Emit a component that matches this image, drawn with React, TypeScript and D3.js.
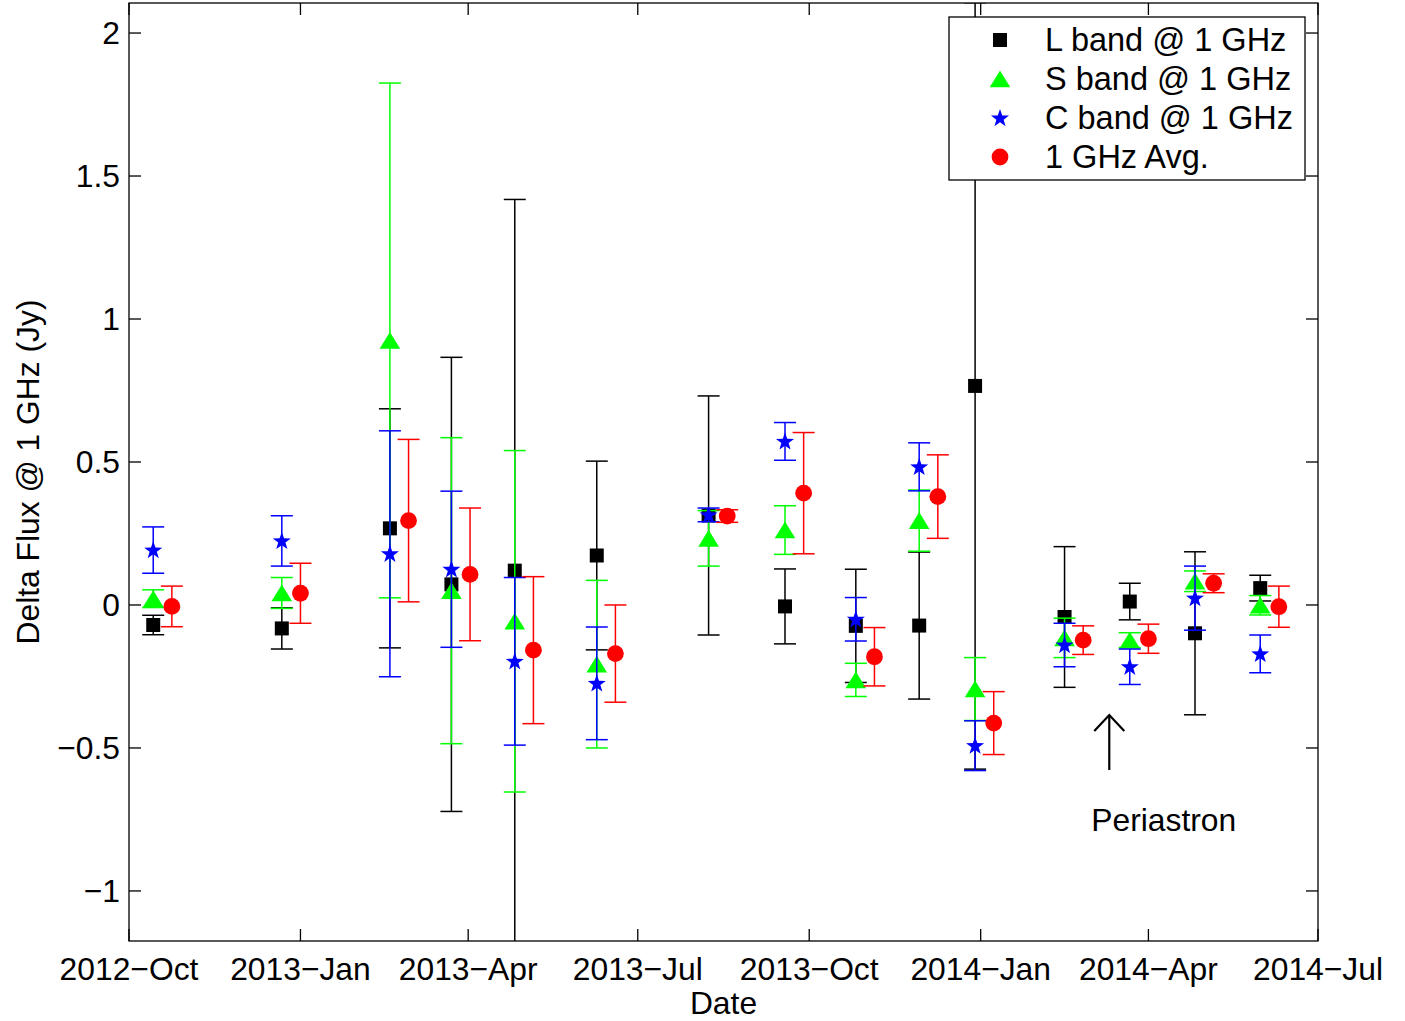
import React from "react";
import * as d3 from "d3";

// ---- data ----
const obsDates = [
  "2012-10-14", "2012-12-22", "2013-02-18", "2013-03-23", "2013-04-26",
  "2013-06-09", "2013-08-08", "2013-09-18", "2013-10-26", "2013-11-29",
  "2013-12-29", "2014-02-15", "2014-03-22", "2014-04-26", "2014-05-31",
];
const avgDates = [
  "2012-10-24", "2013-01-01", "2013-02-28", "2013-04-02", "2013-05-06",
  "2013-06-19", "2013-08-18", "2013-09-28", "2013-11-05", "2013-12-09",
  "2014-01-08", "2014-02-25", "2014-04-01", "2014-05-06", "2014-06-10",
];
const lValues = [-0.070, -0.082, 0.268, 0.072, 0.120, 0.173, 0.313, -0.005, -0.073, -0.072, 0.766, -0.042, 0.012, -0.099, 0.059];
const lErrors = [0.034, 0.072, 0.418, 0.794, 1.298, 0.330, 0.418, 0.131, 0.198, 0.257, 1.340, 0.246, 0.064, 0.285, 0.045];
const sValues = [0.022, 0.042, 0.925, 0.050, -0.057, -0.207, 0.233, 0.262, -0.262, 0.295, -0.294, -0.115, -0.123, 0.083, -0.001];
const sErrors = [0.031, 0.054, 0.900, 0.535, 0.597, 0.293, 0.097, 0.085, 0.058, 0.107, 0.110, 0.069, 0.026, 0.036, 0.034];
const cValues = [0.192, 0.224, 0.179, 0.125, -0.197, -0.274, 0.315, 0.572, -0.050, 0.483, -0.492, -0.140, -0.216, 0.024, -0.171];
const cErrors = [0.081, 0.088, 0.430, 0.273, 0.293, 0.197, 0.024, 0.066, 0.076, 0.084, 0.087, 0.076, 0.062, 0.112, 0.066];
const avgValues = [-0.005, 0.041, 0.295, 0.107, -0.158, -0.170, 0.311, 0.391, -0.181, 0.379, -0.413, -0.123, -0.118, 0.076, -0.006];
const avgErrors = [0.071, 0.105, 0.284, 0.232, 0.257, 0.170, 0.022, 0.212, 0.102, 0.146, 0.110, 0.050, 0.051, 0.033, 0.072];

const seriesNames = ["L band @ 1 GHz", "S band @ 1 GHz", "C band @ 1 GHz", "1 GHz Avg."];
const xTickDates = ["2012-10-01", "2013-01-01", "2013-04-01", "2013-07-01", "2013-10-01", "2014-01-01", "2014-04-01", "2014-07-01"];
const xTickLabels = ["2012\u2212Oct", "2013\u2212Jan", "2013\u2212Apr", "2013\u2212Jul", "2013\u2212Oct", "2014\u2212Jan", "2014\u2212Apr", "2014\u2212Jul"];
const yTicks = [-1, -0.5, 0, 0.5, 1, 1.5, 2];
const xDomain = ["2012-10-01", "2014-07-01"];
const yDomain = [-1.175, 2.105];
const periastronDate = "2014-03-11";
const periastronArrow = [-0.577, -0.385];
const periastronLabelY = -0.752;

// ---- layout ----
const W = 1405, H = 1021;
const L = 129, R = 1318, T = 3, B = 941;
const FONT = "'Liberation Sans', Arial, Helvetica, sans-serif";
const FS = 31.8;
const LFS = 32.5;

const parse = d3.timeParse("%Y-%m-%d");
const x = d3.scaleTime().domain(xDomain.map((d) => parse(d)!)).range([L, R]);
const y = d3.scaleLinear().domain(yDomain).range([B, T]);

type Shape = "square" | "triangle" | "star" | "circle";

function starPath(r: number) {
  const inner = r * 0.4;
  const pts: [number, number][] = [];
  for (let i = 0; i < 10; i++) {
    const a = -Math.PI / 2 + (i * Math.PI) / 5;
    const rr = i % 2 === 0 ? r : inner;
    pts.push([rr * Math.cos(a), rr * Math.sin(a)]);
  }
  return d3.line()(pts)! + "Z";
}

function Marker({ shape, cx, cy, color }: { shape: Shape; cx: number; cy: number; color: string }) {
  if (shape === "square") return <rect x={cx - 7} y={cy - 7} width={14} height={14} fill={color} />;
  if (shape === "circle") return <circle cx={cx} cy={cy} r={8.4} fill={color} />;
  if (shape === "triangle")
    return <path d={`M${cx},${cy - 8.5}L${cx + 10.3},${cy + 8.3}L${cx - 10.3},${cy + 8.3}Z`} fill={color} />;
  return <path d={starPath(9.5)} transform={`translate(${cx},${cy + 0.5})`} fill={color} />;
}

const series = [
  { name: seriesNames[0], dates: obsDates, values: lValues, errors: lErrors, color: "#000000", shape: "square" as Shape },
  { name: seriesNames[1], dates: obsDates, values: sValues, errors: sErrors, color: "#00ff00", shape: "triangle" as Shape },
  { name: seriesNames[2], dates: obsDates, values: cValues, errors: cErrors, color: "#0000ff", shape: "star" as Shape },
  { name: seriesNames[3], dates: avgDates, values: avgValues, errors: avgErrors, color: "#ff0000", shape: "circle" as Shape },
];

export default function App() {
  const cap = 11;
  const tick = 12;
  return (
    <svg width={W} height={H} style={{ position: "absolute", left: 0, top: 0, background: "#fff" }} fontFamily={FONT}>
      <defs>
        <clipPath id="plot">
          <rect x={L} y={T} width={R - L} height={B - T} />
        </clipPath>
      </defs>
      <rect x={0} y={0} width={W} height={H} fill="#fff" />
      {/* data */}
      <g clipPath="url(#plot)">
        {series.map((s) => (
          <g key={s.name}>
            {s.values.map((v, i) => {
              const cx = x(parse(s.dates[i])!);
              const y1 = y(v + s.errors[i]);
              const y2 = y(v - s.errors[i]);
              return (
                <g key={i} stroke={s.color} strokeWidth={1.5}>
                  <line x1={cx} x2={cx} y1={y1} y2={y2} />
                  <line x1={cx - cap} x2={cx + cap} y1={y1} y2={y1} />
                  <line x1={cx - cap} x2={cx + cap} y1={y2} y2={y2} />
                </g>
              );
            })}
            {s.values.map((v, i) => (
              <Marker key={"m" + i} shape={s.shape} cx={x(parse(s.dates[i])!)} cy={y(v)} color={s.color} />
            ))}
          </g>
        ))}
      </g>
      {/* axes box */}
      <rect x={L} y={T} width={R - L} height={B - T} fill="none" stroke="#000" strokeWidth={1.3} />
      {xTickDates.map((d, i) => {
        const tx = x(parse(d)!);
        return (
          <g key={d}>
            <line x1={tx} x2={tx} y1={B} y2={B - tick} stroke="#000" strokeWidth={1.3} />
            <line x1={tx} x2={tx} y1={T} y2={T + tick} stroke="#000" strokeWidth={1.3} />
            <text x={tx} y={B + 39} fontSize={FS} textAnchor="middle">{xTickLabels[i]}</text>
          </g>
        );
      })}
      {yTicks.map((v) => {
        const ty = y(v);
        return (
          <g key={v}>
            <line x1={L} x2={L + tick} y1={ty} y2={ty} stroke="#000" strokeWidth={1.3} />
            <line x1={R} x2={R - tick} y1={ty} y2={ty} stroke="#000" strokeWidth={1.3} />
            <text x={120} y={ty + 11} fontSize={FS} textAnchor="end">{v < 0 ? "\u2212" + Math.abs(v) : String(v)}</text>
          </g>
        );
      })}
      <text x={(L + R) / 2} y={1014} fontSize={FS} textAnchor="middle">Date</text>
      <text transform={`translate(39,${(T + B) / 2}) rotate(-90)`} fontSize={FS} textAnchor="middle">Delta Flux @ 1 GHz (Jy)</text>
      {/* periastron annotation */}
      {(() => {
        const ax = x(parse(periastronDate)!);
        const yTail = y(periastronArrow[0]);
        const yTip = y(periastronArrow[1]);
        return (
          <g stroke="#000" strokeWidth={2.2} fill="none">
            <line x1={ax} x2={ax} y1={yTail} y2={yTip} />
            <polyline points={`${ax - 15},${yTip + 16} ${ax},${yTip} ${ax + 15},${yTip + 16}`} />
          </g>
        );
      })()}
      <text x={x(parse(periastronDate)!) - 18} y={y(periastronLabelY) + 11} fontSize={FS}>Periastron</text>
      {/* legend */}
      <g>
        <rect x={949} y={17} width={356} height={163} fill="#fff" stroke="#000" strokeWidth={1.3} />
        {series.map((s, i) => {
          const ry = 40 + i * 39;
          return (
            <g key={s.name}>
              <Marker shape={s.shape} cx={1000} cy={ry} color={s.color} />
              <text x={1045} y={ry + 11} fontSize={LFS}>{s.name}</text>
            </g>
          );
        })}
      </g>
    </svg>
  );
}
